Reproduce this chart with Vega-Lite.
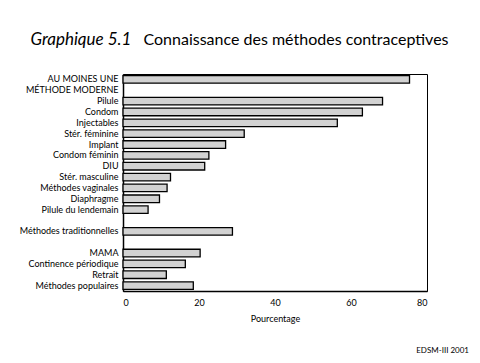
{
  "$schema": "https://vega.github.io/schema/vega-lite/v6.json",
  "width": 304,
  "height": 217,
  "autosize": {"type": "none"},
  "padding": {"left": 123, "top": 74, "right": 53, "bottom": 72},
  "background": "white",
  "config": {
    "font": "Lato",
    "view": {"stroke": "black", "strokeWidth": 1},
    "axis": {"labelColor": "black", "titleColor": "black", "grid": false}
  },
  "title": {
    "text": "EDSM-III 2001",
    "orient": "bottom",
    "anchor": "end",
    "frame": "group",
    "dx": 42,
    "fontSize": 8,
    "fontWeight": "normal",
    "color": "black",
    "offset": 30,
    "baseline": "alphabetic"
  },
  "data": {
    "values": [
      {"methode": "AU MOINES UNE MÉTHODE MODERNE", "pct": 75.4},
      {"methode": "Pilule", "pct": 68.3},
      {"methode": "Condom", "pct": 63.0},
      {"methode": "Injectables", "pct": 56.4},
      {"methode": "Stér. féminine", "pct": 31.9},
      {"methode": "Implant", "pct": 27.0},
      {"methode": "Condom féminin", "pct": 22.6},
      {"methode": "DIU", "pct": 21.5},
      {"methode": "Stér. masculine", "pct": 12.5},
      {"methode": "Méthodes vaginales", "pct": 11.6},
      {"methode": "Diaphragme", "pct": 9.6},
      {"methode": "Pilule du lendemain", "pct": 6.6},
      {"methode": "Méthodes traditionnelles", "pct": 28.8},
      {"methode": "MAMA", "pct": 20.3},
      {"methode": "Continence périodique", "pct": 16.4},
      {"methode": "Retrait", "pct": 11.4},
      {"methode": "Méthodes populaires", "pct": 18.5}
    ]
  },
  "encoding": {
    "y": {
      "field": "methode",
      "type": "nominal",
      "scale": {
        "domain": ["AU MOINES UNE MÉTHODE MODERNE", "vide1", "Pilule", "Condom", "Injectables", "Stér. féminine", "Implant", "Condom féminin", "DIU", "Stér. masculine", "Méthodes vaginales", "Diaphragme", "Pilule du lendemain", "vide2", "Méthodes traditionnelles", "vide3", "MAMA", "Continence périodique", "Retrait", "Méthodes populaires"],
        "paddingInner": 0.3,
        "paddingOuter": 0.15
      },
      "axis": {
        "title": "Graphique 5.1",
        "titleAngle": 0,
        "titleX": -93,
        "titleY": -30,
        "titleAlign": "left",
        "titleBaseline": "alphabetic",
        "titleFontSize": 17,
        "titleFontStyle": "italic",
        "titleFontWeight": "normal",
        "ticks": false,
        "labelPadding": 5,
        "labelFontSize": 9,
        "labelLineHeight": 11,
        "labelLimit": 200,
        "domainColor": "black",
        "domainWidth": 1.5,
        "labelExpr": "datum.value == 'AU MOINES UNE MÉTHODE MODERNE' ? ['AU MOINES UNE', 'MÉTHODE MODERNE'] : (indexof(datum.value, 'vide') == 0 ? '' : datum.value)"
      }
    }
  },
  "layer": [
    {
      "mark": {"type": "bar", "fill": "#d2d2d2", "stroke": "black", "strokeWidth": 1.3},
      "encoding": {
        "x": {
          "field": "pct",
          "type": "quantitative",
          "scale": {"domain": [0, 80]},
          "axis": {
            "values": [0, 20, 40, 60, 80],
            "format": "d",
            "ticks": false,
            "labelPadding": 7,
            "labelFontSize": 9,
            "title": "Pourcentage",
            "titleFontSize": 9,
            "titleFontWeight": "normal",
            "titlePadding": 7,
            "domainColor": "black",
            "domainWidth": 1.5
          }
        }
      }
    },
    {
      "mark": {"type": "bar", "opacity": 0},
      "encoding": {
        "x": {
          "field": "pct",
          "type": "quantitative",
          "axis": {
            "orient": "top",
            "labels": false,
            "ticks": false,
            "domain": false,
            "title": "Connaissance des méthodes contraceptives",
            "titleX": 20,
            "titleY": -30,
            "titleAlign": "left",
            "titleBaseline": "alphabetic",
            "titleAngle": 0,
            "titleFontSize": 16,
            "titleFontWeight": "normal"
          }
        }
      }
    }
  ],
  "resolve": {"axis": {"x": "independent"}}
}
